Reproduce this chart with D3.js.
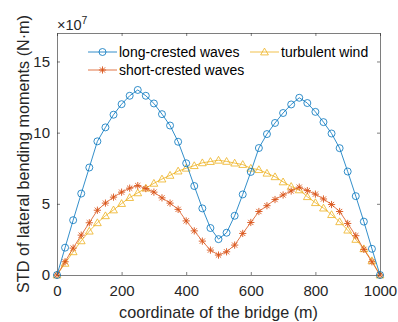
<!DOCTYPE html>
<html>
<head>
<meta charset="utf-8">
<script src="https://cdn.jsdelivr.net/npm/d3@7"></script>
<style>
  body { margin: 0; background: #fff; }
  svg { font-family: "Liberation Sans", Arial, Helvetica, sans-serif; }
  .axis text { font-size: 15px; fill: #262626; }
  .axis path, .axis line { stroke: #262626; stroke-width: 0.6; }
</style>
</head>
<body>
<svg width="398" height="322"></svg>
<script>
// coordinate along the bridge (m)
var positions = [0, 25, 50, 75, 100, 125, 150, 175, 200, 225, 250, 275, 300, 325, 350, 375, 400,
  425, 450, 475, 500, 525, 550, 575, 600, 625, 650, 675, 700, 725, 750, 775, 800, 825, 850,
  875, 900, 925, 950, 975, 1000];

// STD of lateral bending moments, in units of 1e7 N·m
var longCrested = [0, 1.92, 3.85, 5.72, 7.55, 9.39, 10.37, 11.26, 12.0, 12.59, 13.0, 12.59, 12.05,
  11.3, 10.5, 9.36, 7.85, 6.25, 4.68, 3.3, 2.52, 2.97, 4.16, 5.66, 7.24, 8.92, 9.9, 10.68, 11.38,
  11.98, 12.45, 12.08, 11.46, 10.74, 9.94, 8.91, 7.27, 5.54, 3.75, 1.84, 0];
var shortCrested = [0, 0.93, 1.89, 2.8, 3.67, 4.55, 5.05, 5.47, 5.82, 6.1, 6.28, 6.07, 5.82,
  5.42, 5.05, 4.61, 3.8, 3.1, 2.38, 1.75, 1.4, 1.63, 2.1, 2.92, 3.69, 4.46, 4.87, 5.3, 5.62,
  5.9, 6.17, 5.93, 5.68, 5.34, 4.95, 4.46, 3.62, 2.76, 1.8, 0.93, 0];
var turbulentWind = [0, 0.82, 1.63, 2.4, 3.08, 3.67, 4.16, 4.57, 5.02, 5.44, 5.77, 6.1, 6.44,
  6.74, 7.0, 7.3, 7.5, 7.68, 7.88, 7.97, 8.06, 7.98, 7.86, 7.76, 7.5, 7.4, 7.15, 6.9, 6.54,
  6.22, 5.98, 5.5, 5.08, 4.7, 4.24, 3.74, 3.15, 2.5, 1.84, 1.0, 0];

var xTicks = [0, 200, 400, 600, 800, 1000];
var yTicks = [0, 5, 10, 15];

var seriesNames = ["long-crested waves", "short-crested waves", "turbulent wind"];
var seriesValues = [longCrested, shortCrested, turbulentWind];
var seriesColors = ["#0072BD", "#D95319", "#EDB120"];
var seriesMarkers = ["circle", "star", "triangle"];

var svg = d3.select("svg"),
  margin = { top: 33, right: 18, bottom: 47, left: 57 },
  width = +svg.attr("width") - margin.left - margin.right,
  height = +svg.attr("height") - margin.top - margin.bottom;

var x = d3.scaleLinear().domain([0, 1000]).range([0, width]);
var y = d3.scaleLinear().domain([0, 17]).range([height, 0]);

var g = svg.append("g").attr("transform", "translate(" + margin.left + "," + margin.top + ")");

// axes box, ticks pointing inward
g.append("g").attr("class", "axis")
  .attr("transform", "translate(0," + height + ")")
  .call(d3.axisBottom(x).tickValues(xTicks).tickFormat(d3.format("d"))
    .tickSizeInner(-3).tickSizeOuter(0).tickPadding(10));
g.append("g").attr("class", "axis")
  .call(d3.axisTop(x).tickValues(xTicks).tickSizeInner(-3).tickSizeOuter(0).tickFormat(""));
g.append("g").attr("class", "axis")
  .call(d3.axisLeft(y).tickValues(yTicks).tickSizeInner(-3).tickSizeOuter(0).tickPadding(7));
g.append("g").attr("class", "axis")
  .attr("transform", "translate(" + width + ",0)")
  .call(d3.axisRight(y).tickValues(yTicks).tickSizeInner(-3).tickSizeOuter(0).tickFormat(""));

function drawMarker(sel, type, color) {
  if (type === "circle") {
    sel.append("circle").attr("r", 3.5)
      .attr("fill", "none").attr("stroke", color).attr("stroke-width", 0.8);
  } else if (type === "triangle") {
    sel.append("path").attr("d", "M0,-3.9L3.9,2.9L-3.9,2.9Z")
      .attr("fill", "none").attr("stroke", color).attr("stroke-width", 0.8);
  } else {
    sel.append("path").attr("d", "M-3.6,0H3.6M0,-3.6V3.6M-2.6,-2.6L2.6,2.6M-2.6,2.6L2.6,-2.6")
      .attr("fill", "none").attr("stroke", color).attr("stroke-width", 0.9);
  }
}

var line = d3.line().x(function (d) { return x(d[0]); }).y(function (d) { return y(d[1]); });

// draw in reverse so long-crested sits on top
[2, 1, 0].forEach(function (k) {
  var pts = positions.map(function (p, i) { return [p, seriesValues[k][i]]; });
  g.append("path").datum(pts)
    .attr("d", line)
    .attr("fill", "none")
    .attr("stroke", seriesColors[k])
    .attr("stroke-width", 0.8);
  g.selectAll(".m" + k).data(pts).enter()
    .append("g").attr("class", "m" + k)
    .attr("transform", function (d) { return "translate(" + x(d[0]) + "," + y(d[1]) + ")"; })
    .each(function () { drawMarker(d3.select(this), seriesMarkers[k], seriesColors[k]); });
});

// legend
var legendPos = [[31, 19], [31, 37], [193, 19]];
seriesNames.forEach(function (name, k) {
  var lg = g.append("g").attr("transform", "translate(" + legendPos[k][0] + "," + legendPos[k][1] + ")");
  lg.append("line").attr("x1", 0).attr("x2", 29).attr("stroke", seriesColors[k]).attr("stroke-width", 0.8);
  drawMarker(lg.append("g").attr("transform", "translate(14.5,0)"), seriesMarkers[k], seriesColors[k]);
  lg.append("text").attr("x", 31).attr("dy", "0.35em")
    .attr("font-size", 14).attr("fill", "#000").text(name);
});

// exponent label
var ex = svg.append("text").attr("x", 57).attr("y", 30).attr("fill", "#262626").attr("font-size", 14.5);
ex.append("tspan").text("\u00d710");
ex.append("tspan").attr("font-size", 10.5).attr("dy", -6).text("7");

// axis labels
svg.append("text")
  .attr("x", margin.left + width / 2).attr("y", 318)
  .attr("text-anchor", "middle").attr("font-size", 16.2).attr("fill", "#262626")
  .text("coordinate of the bridge (m)");
svg.append("text")
  .attr("transform", "translate(29," + (margin.top + height / 2) + ") rotate(-90)")
  .attr("text-anchor", "middle").attr("font-size", 16.2).attr("fill", "#262626")
  .text("STD of lateral bending moments (N\u00b7m)");
</script>
</body>
</html>
